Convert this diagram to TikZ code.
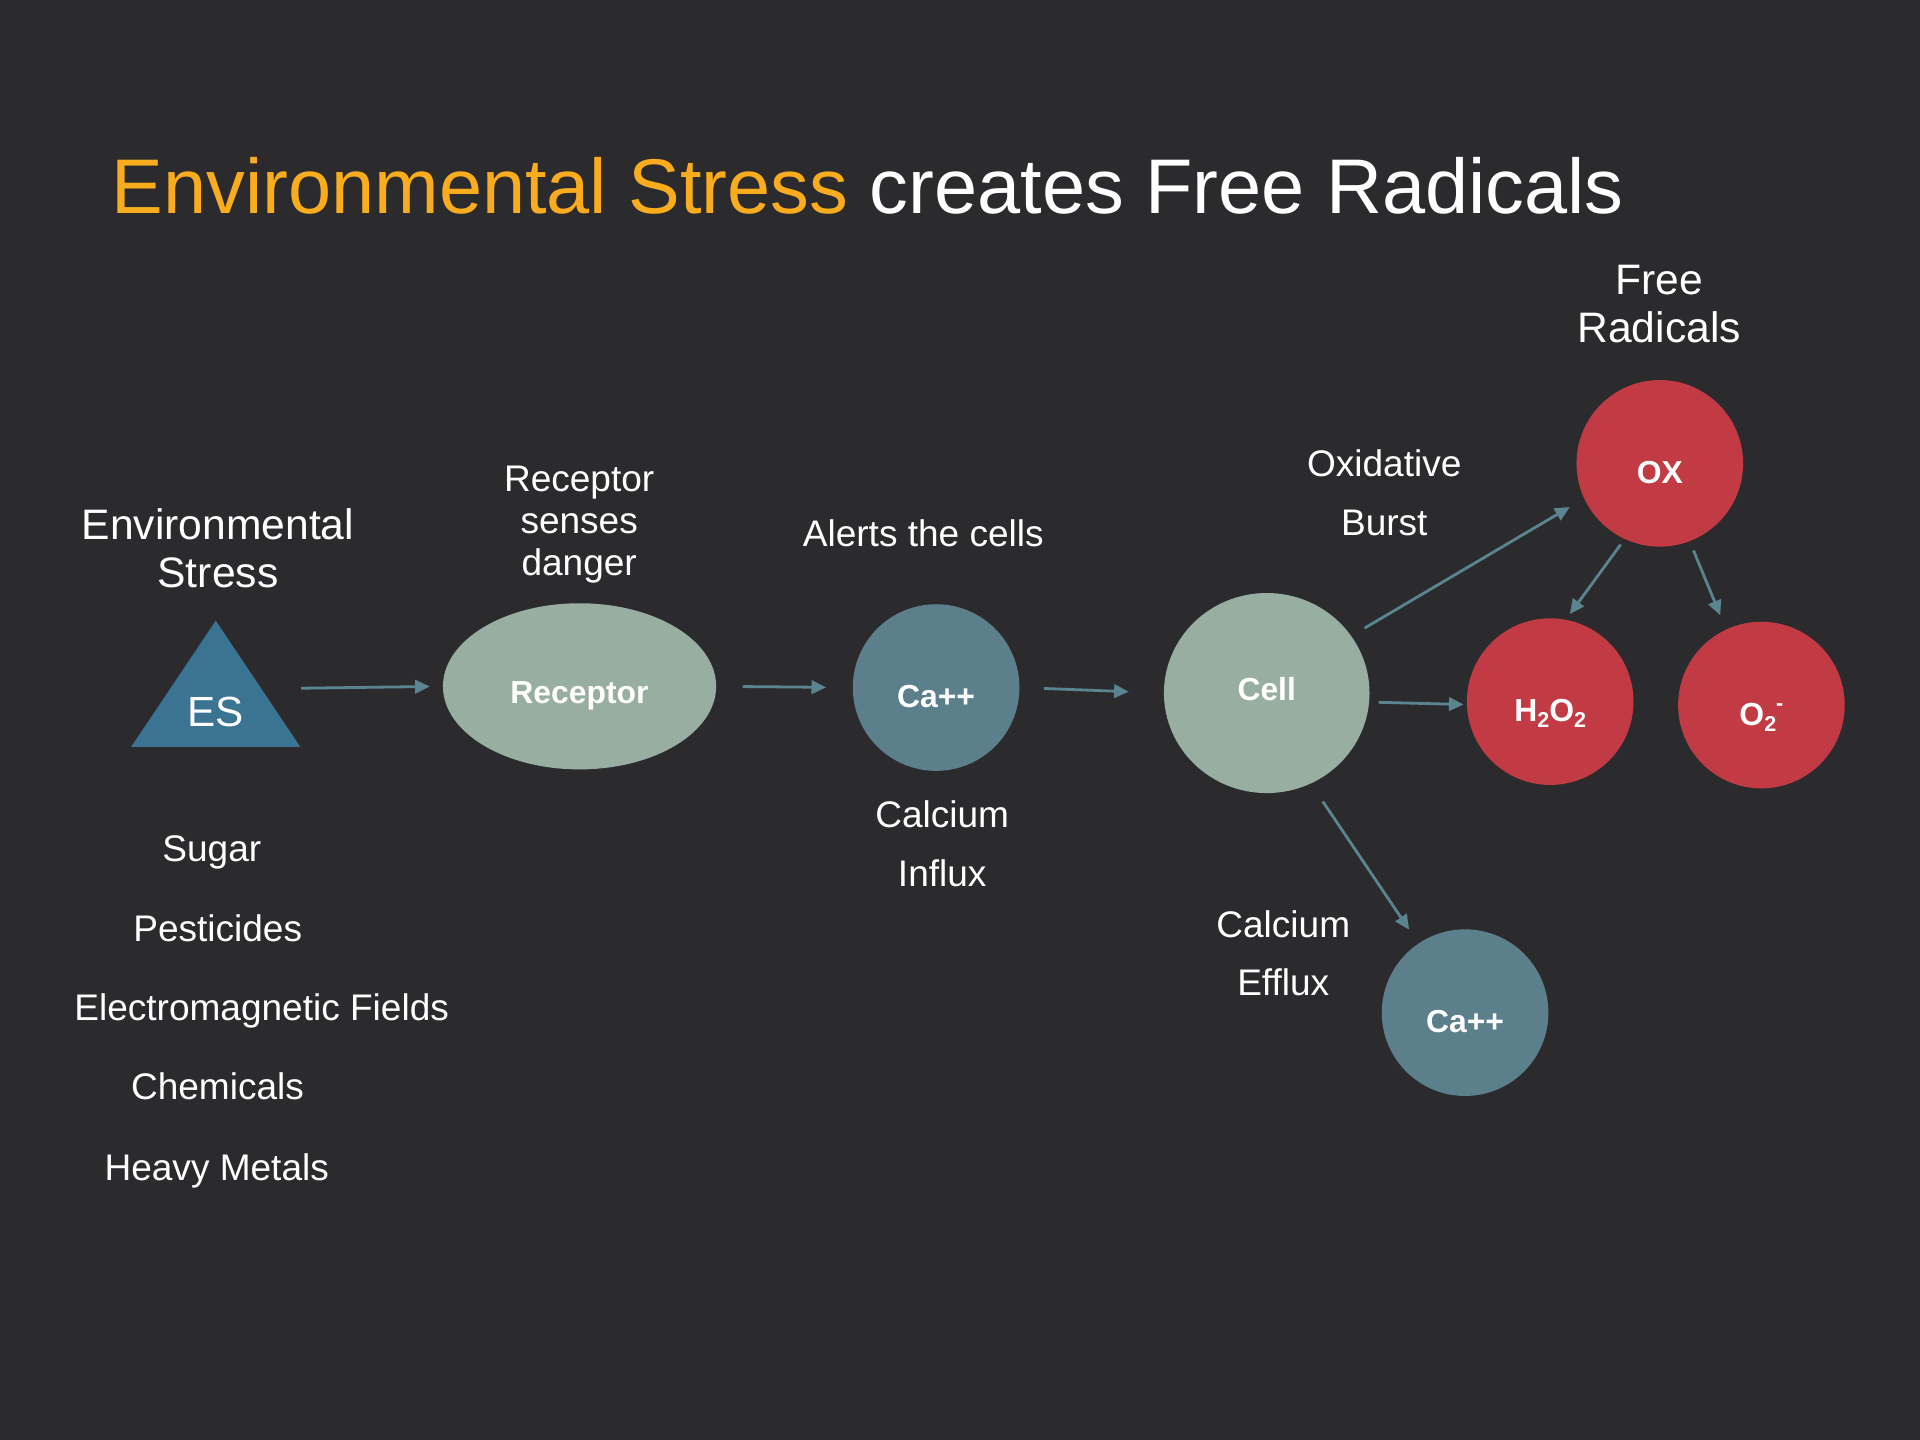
\documentclass[tikz,border=0pt]{standalone}
\usepackage{fontspec}
\setmainfont{Liberation Sans}
\usetikzlibrary{arrows.meta}
\usetikzlibrary{shapes.geometric}

\definecolor{bgdark}{HTML}{2B2B2E}
\definecolor{titleorange}{HTML}{F9AC1E}
\definecolor{esblue}{HTML}{3B7392}
\definecolor{sage}{HTML}{97AEA0}
\definecolor{teal}{HTML}{5B808B}
\definecolor{radred}{HTML}{C23A43}
\definecolor{arrowcol}{HTML}{5A8590}

\newcommand{\chemsub}[1]{\raisebox{-0.35ex}{\fontsize{5}{6}\selectfont #1}}
\newcommand{\chemsup}[1]{\raisebox{0.85ex}{\fontsize{5}{6}\selectfont #1}}

\begin{document}
\begin{tikzpicture}[x=0.01cm, y=-0.01cm,
    lbl/.style={text=white, inner sep=0pt, anchor=base, align=center, font=\fontsize{8.6}{9.64}\selectfont},
    spaced/.style={font=\fontsize{8.6}{13.6}\selectfont},
    big/.style={font=\fontsize{9.9}{11.3}\selectfont},
    ball/.style={circle, minimum size=1.36cm, inner sep=0pt, text=white, font=\bfseries\fontsize{7.4}{8.9}\selectfont, text height=0.33cm, text depth=0pt},
    blob/.style={ellipse, fill=sage, inner sep=0pt, text=white, font=\bfseries\fontsize{7.4}{8.9}\selectfont, text depth=0pt},
    estri/.style={rectangle, minimum width=1.38cm, minimum height=1.03cm, inner sep=0pt, text=white, font=\fontsize{9.8}{11}\selectfont, text height=0.69cm, text depth=0pt,
        path picture={\fill[esblue] (path picture bounding box.south west) -- (path picture bounding box.south east) -- (path picture bounding box.north) -- cycle;}},
    arr/.style={draw=arrowcol, line width=0.65pt, -{Triangle[length=0.12cm, width=0.11cm]}}
]
    \fill[bgdark] (0,0) rectangle (1568,1176);

    \node[lbl, anchor=base west, font=\fontsize{18}{21.6}\selectfont] (title) at (90.6,174) {\textcolor{titleorange}{Environmental Stress} creates Free Radicals};

    % shapes
    \node[estri] (es) at (176.2,558.4) {ES\hspace{0.08cm}};
    \node[blob, minimum width=2.23cm, minimum height=1.356cm, text height=0.286cm] (rec) at (473.3,560.5) {Receptor};
    \node[ball, fill=teal] (ca1) at (764.5,561.5) {Ca++};
    \node[blob, minimum width=1.678cm, minimum height=1.633cm, text height=0.12cm] (cell) at (1034.5,566) {Cell};
    \node[ball, fill=radred] (ox) at (1355.5,378.4) {OX};
    \node[ball, fill=radred] (h2o2) at (1266,573) {H\chemsub{2}O\chemsub{2}};
    \node[ball, fill=radred] (o2) at (1438.5,575.8) {O\chemsub{2}\chemsup{-}};
    \node[ball, fill=teal] (ca2) at (1196.5,827) {Ca++};

    % labels (base = last line)
    \node[lbl, big] (envlbl) at (178,480) {Environmental\\Stress};
    \node[lbl] (senses) at (473,469.6) {Receptor\\senses\\danger};
    \node[lbl] (alerts) at (754,446) {Alerts the cells};
    \node[lbl, spaced] (influx) at (769.5,724) {Calcium\\Influx};
    \node[lbl, spaced] (burst) at (1130.5,437) {Oxidative\\Burst};
    \node[lbl, spaced] (efflux) at (1048,813.4) {Calcium\\Efflux};
    \node[lbl, big] (frlbl) at (1355,280) {Free\\Radicals};

    \node[lbl] (sugar) at (173,703.7) {Sugar};
    \node[lbl] (pest) at (177.8,769) {Pesticides};
    \node[lbl] (emf) at (213.7,833.5) {Electromagnetic Fields};
    \node[lbl] (chem) at (177.6,898.3) {Chemicals};
    \node[lbl] (metals) at (177,963.7) {Heavy Metals};

    % arrows
    \draw[arr, shorten >=0.1cm] (es.-3) -- (rec.west);
    \draw[arr, shorten <=0.21cm, shorten >=0.21cm] (rec.east) -- (ca1.west);
    \draw[arr, shorten <=0.195cm, shorten >=0.28cm] (ca1.east) -- (cell.west);
    \draw[arr, shorten <=0.12cm, shorten >=0.13cm] (cell.34) -- (ox.205);
    \draw[arr, shorten <=0.07cm, shorten >=0.02cm] (cell.-5) -- (h2o2.182);
    \draw[arr, shorten <=0.05cm, shorten >=0.05cm] (ox.245) -- (h2o2.79);
    \draw[arr, shorten <=0.075cm, shorten >=0.12cm] (ox.291) -- (o2.115);
    \draw[arr, shorten <=0.17cm, shorten >=0.13cm] (cell.-64) -- (ca2.124);
\end{tikzpicture}
\end{document}
